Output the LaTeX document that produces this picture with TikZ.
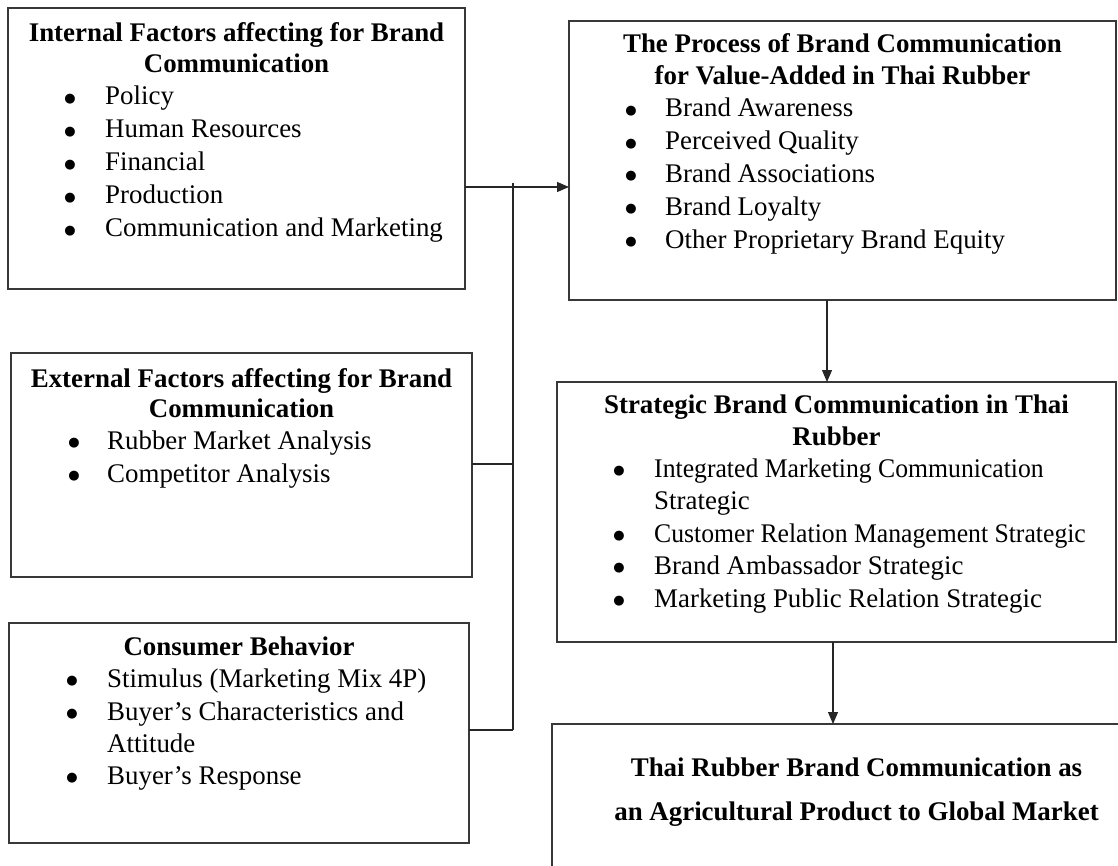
\documentclass[tikz,border=0pt]{standalone}
\usepackage{fontspec}
\setmainfont{Liberation Serif}
\newfontfamily\dotfont{DejaVu Sans}
\usetikzlibrary{arrows.meta}
\newcommand{\tight}[1]{\scalebox{0.955}[1]{#1}}
\begin{document}
\begin{tikzpicture}[x=1pt,y=-1pt,
  framebox/.style={draw=black!78, line width=1.3pt, rectangle, inner sep=0pt, outer sep=0pt},
  ttl/.style={anchor=base, inner sep=0pt, font=\fontsize{26.9}{32}\selectfont\bfseries},
  itm/.style={anchor=base west, inner sep=0pt, font=\fontsize{26.9}{32}\selectfont},
  dot/.style={anchor=center, inner sep=0pt, font=\dotfont\fontsize{13}{13}\selectfont},
  link/.style={draw=black!85, line width=1.1pt},
  arr/.style={link, -{Triangle[length=12pt,width=10pt]}}]
\useasboundingbox (0,0) rectangle (1118,866);
\clip (0,0) rectangle (1118,866);

% boxes
\node[framebox, minimum width=457pt, minimum height=281pt] (inbox)    at (236.5,148.5) {};
\node[framebox, minimum width=547pt, minimum height=279pt] (procbox)  at (842.5,160.5) {};
\node[framebox, minimum width=461pt, minimum height=224pt] (extbox)   at (241.5,465) {};
\node[framebox, minimum width=460pt, minimum height=220pt] (consbox)  at (239,733) {};
\node[framebox, minimum width=559pt, minimum height=260pt] (stratbox) at (836.5,512) {};
\node[framebox, minimum width=609pt, minimum height=206pt] (finalbox) at (856.5,827) {};

% internal factors
\node[ttl] (in-h1) at (236.5,42) {Internal Factors affecting for Brand};
\node[ttl] (in-h2) at (236.5,73) {Communication};
\foreach \t [count=\i] in {Policy, Human Resources, Financial, Production, Communication and Marketing} {
  \node[dot] (in-d\i) at (70,{99+33*(\i-1)}) {●};
  \node[itm] (in-t\i) at (105,{105+33*(\i-1)}) {\t};
}

% process of brand communication
\node[ttl] (pr-h1) at (842.5,53) {The Process of Brand Communication};
\node[ttl] (pr-h2) at (842.5,85) {for Value-Added in Thai Rubber};
\foreach \t [count=\i] in {Brand Awareness, Perceived Quality, Brand Associations, Brand Loyalty, Other Proprietary Brand Equity} {
  \node[dot] (pr-d\i) at (631,{111+32.8*(\i-1)}) {●};
  \node[itm] (pr-t\i) at (665,{117+32.8*(\i-1)}) {\t};
}

% external factors
\node[ttl] (ex-h1) at (241.5,387) {External Factors affecting for Brand};
\node[ttl] (ex-h2) at (241.5,417) {Communication};
\foreach \t [count=\i] in {Rubber Market Analysis, Competitor Analysis} {
  \node[dot] (ex-d\i) at (74,{443+33*(\i-1)}) {●};
  \node[itm] (ex-t\i) at (107,{449+33*(\i-1)}) {\t};
}

% consumer behavior
\node[ttl] (co-h1) at (239,655) {Consumer Behavior};
\node[dot] (co-d1) at (72,681) {●};
\node[itm] (co-t1) at (107,687) {Stimulus (Marketing Mix 4P)};
\node[dot] (co-d2) at (72,714) {●};
\node[itm] (co-t2) at (107,720) {Buyer’s Characteristics and};
\node[itm] (co-t2b) at (107,752) {Attitude};
\node[dot] (co-d3) at (72,778) {●};
\node[itm] (co-t3) at (107,784) {Buyer’s Response};

% strategic brand communication
\node[ttl] (st-h1) at (836.5,413) {Strategic Brand Communication in Thai};
\node[ttl] (st-h2) at (836.5,445) {Rubber};
\node[dot] (st-d1) at (619,471) {●};
\node[itm] (st-t1) at (654,477) {\tight{Integrated Marketing Communication}};
\node[itm] (st-t1b) at (654,509) {Strategic};
\node[dot] (st-d2) at (619,536) {●};
\node[itm] (st-t2) at (654,542) {\tight{Customer Relation Management Strategic}};
\node[dot] (st-d3) at (619,568) {●};
\node[itm] (st-t3) at (654,574) {Brand Ambassador Strategic};
\node[dot] (st-d4) at (619,601) {●};
\node[itm] (st-t4) at (654,607) {Marketing Public Relation Strategic};

% outcome
\node[ttl] (fi-h1) at (856.5,776) {Thai Rubber Brand Communication as};
\node[ttl] (fi-h2) at (856.5,820) {an Agricultural Product to Global Market};

% connectors
\coordinate (jin)   at (513,187);
\coordinate (jtop)  at (513,183);
\coordinate (jext)  at (513,464);
\coordinate (jcons) at (513,730);
\draw[arr] (inbox.east |- jin) -- (procbox.west |- jin);
\draw[link] (jtop) -- (jcons);
\draw[link] (extbox.east |- jext) -- (jext);
\draw[link] (consbox.east |- jcons) -- (jcons);
\draw[arr] ([xshift=-15.5pt]procbox.south) -- ([xshift=-9.5pt]stratbox.north);
\draw[arr] ([xshift=-3.5pt]stratbox.south) -- ([xshift=-23.5pt]finalbox.north);
\end{tikzpicture}
\end{document}
